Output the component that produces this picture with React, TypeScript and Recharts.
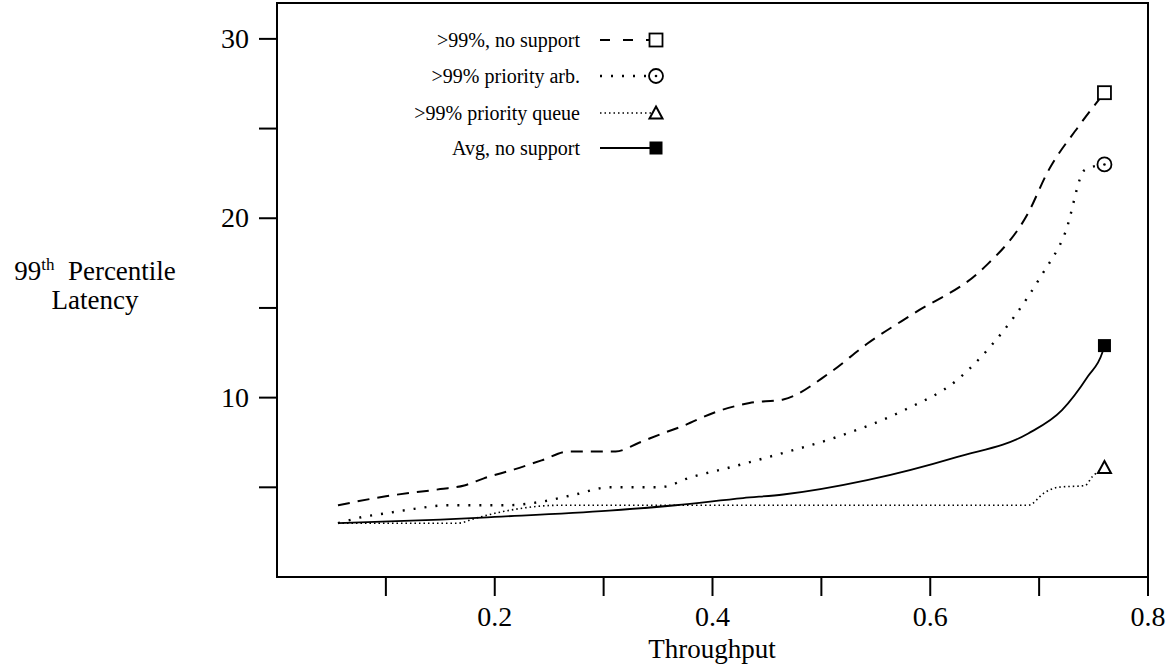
import { LineChart, Line, XAxis, YAxis, ReferenceArea } from 'recharts'

// >99%, no support (dashed)
const noSupportX = [0.056, 0.1, 0.15, 0.172, 0.19, 0.218, 0.243, 0.268, 0.311, 0.333, 0.354, 0.372, 0.403, 0.434, 0.465, 0.508, 0.542, 0.585, 0.643, 0.652, 0.69, 0.708, 0.736, 0.76]
const noSupportY = [4.0, 4.5, 4.9, 5.1, 5.5, 6.0, 6.5, 7.0, 7.0, 7.5, 8.0, 8.4, 9.2, 9.7, 9.9, 11.4, 13.0, 14.7, 16.9, 17.4, 20.3, 22.6, 25.1, 27.0]

// >99% priority arb. (dotted)
const arbX = [0.056, 0.079, 0.1, 0.126, 0.157, 0.212, 0.243, 0.274, 0.305, 0.351, 0.382, 0.409, 0.458, 0.514, 0.576, 0.625, 0.656, 0.677, 0.702, 0.724, 0.742, 0.76]
const arbY = [3.0, 3.35, 3.55, 3.8, 4.0, 4.0, 4.2, 4.6, 5.0, 5.0, 5.6, 6.0, 6.8, 7.8, 9.3, 11.0, 12.9, 14.5, 16.8, 19.2, 22.7, 23.0]

// >99% priority queue (fine dotted)
const queueX = [0.056, 0.166, 0.181, 0.2, 0.227, 0.259, 0.69, 0.705, 0.717, 0.742, 0.749, 0.76]
const queueY = [3.0, 3.0, 3.25, 3.55, 3.85, 4.0, 4.0, 4.7, 5.0, 5.1, 5.6, 6.1]

// Avg, no support (solid)
const avgX = [0.056, 0.15, 0.2, 0.305, 0.366, 0.428, 0.465, 0.542, 0.625, 0.69, 0.721, 0.745, 0.758, 0.76]
const avgY = [3.0, 3.2, 3.35, 3.7, 4.0, 4.4, 4.6, 5.4, 6.7, 8.0, 9.3, 11.2, 12.5, 12.9]

const xTicks = [0.1, 0.2, 0.3, 0.4, 0.5, 0.6, 0.7, 0.8]
const xLabeled = [0.2, 0.4, 0.6, 0.8]
const yTicks = [5, 10, 15, 20, 25, 30]
const yLabeled = [10, 20, 30]

const legendNames = ['>99%, no support', '>99% priority arb.', '>99% priority queue', 'Avg, no support']

const toRows = (xs: number[], ys: number[]) => xs.map((x, i) => ({ x, y: ys[i] }))

const FONT = '"Liberation Serif", "Times New Roman", serif'

function marker(kind: string, cx: number, cy: number, key?: any) {
  if (kind === 'sq') return <rect key={key} x={cx - 6.5} y={cy - 6.5} width={13} height={13} fill="#fff" stroke="#000" strokeWidth={1.8} />
  if (kind === 'circ') return (
    <g key={key}>
      <circle cx={cx} cy={cy} r={7} fill="#fff" stroke="#000" strokeWidth={1.8} />
      <circle cx={cx} cy={cy} r={1.3} fill="#000" />
    </g>
  )
  if (kind === 'tri') return <path key={key} d={`M${cx},${cy - 6.5} L${cx + 6.5},${cy + 5.5} L${cx - 6.5},${cy + 5.5} Z`} fill="#fff" stroke="#000" strokeWidth={2} />
  return <rect key={key} x={cx - 6.5} y={cy - 6.5} width={13} height={13} fill="#000" />
}

const lastDot = (kind: string, n: number) => (p: any) => {
  if (p.index !== n - 1) return <g key={p.index} />
  return marker(kind, p.cx, p.cy, p.index)
}

const series = [
  { name: legendNames[0], data: toRows(noSupportX, noSupportY), dash: '12 8', lg: '10 13', w: 2, kind: 'sq' },
  { name: legendNames[1], data: toRows(arbX, arbY), dash: '2 9', lg: '2 9', w: 2.4, kind: 'circ' },
  { name: legendNames[2], data: toRows(queueX, queueY), dash: '1.5 3', lg: '1.5 3', w: 1.6, kind: 'tri' },
  { name: legendNames[3], data: toRows(avgX, avgY), dash: undefined, lg: undefined, w: 1.8, kind: 'fsq' },
]

const YTick = (p: any) => {
  const v = p.payload.value
  return (
    <g>
      <line x1={259} x2={277} y1={p.y} y2={p.y} stroke="#000" strokeWidth={2} />
      {yLabeled.includes(v) ? <text x={249} y={p.y} dy={9} textAnchor="end" fontSize={28} fontFamily={FONT} fill="#000">{v}</text> : null}
    </g>
  )
}

const XTick = (p: any) => {
  const v = p.payload.value
  return (
    <g>
      <line x1={p.x} x2={p.x} y1={577} y2={596} stroke="#000" strokeWidth={2} />
      {xLabeled.some(l => Math.abs(l - v) < 1e-6) ? <text x={p.x} y={626} textAnchor="middle" fontSize={28} fontFamily={FONT} fill="#000">{v.toFixed(1)}</text> : null}
    </g>
  )
}

const legendRowsY = [40, 76, 113, 148]

export default function App() {
  return (
    <div style={{ position: 'absolute', left: 0, top: 0, width: 1168, height: 671, background: '#fff', fontFamily: FONT }}>
      <LineChart width={1168} height={671} margin={{ top: 3, right: 20, bottom: 34, left: 217 }}>
        <XAxis xAxisId="b" type="number" dataKey="x" domain={[0, 0.8]} ticks={xTicks} tick={<XTick />} tickLine={false} axisLine={{ stroke: '#000', strokeWidth: 2 }} height={60} allowDataOverflow />
        <YAxis yAxisId="l" type="number" domain={[0, 32]} ticks={yTicks} tick={<YTick />} tickLine={false} axisLine={{ stroke: '#000', strokeWidth: 2 }} width={60} allowDataOverflow />
        <ReferenceArea xAxisId="b" yAxisId="l" x1={0} x2={0.8} y1={0} y2={32} fill="none" stroke="#000" strokeWidth={2} />
        {series.map(s => (
          <Line key={s.name} xAxisId="b" yAxisId="l" data={s.data} dataKey="y" name={s.name} type="monotone"
            stroke="#000" strokeWidth={s.w} strokeDasharray={s.dash} dot={lastDot(s.kind, s.data.length)}
            activeDot={false} isAnimationActive={false} />
        ))}
      </LineChart>

      {/* legend inside the plot */}
      {series.map((s, i) => (
        <div key={s.name} style={{ position: 'absolute', left: 280, width: 300, top: legendRowsY[i] - 12, height: 24, textAlign: 'right', fontSize: 20, lineHeight: '24px', color: '#000', whiteSpace: 'nowrap' }}>
          {s.name}
        </div>
      ))}
      <svg style={{ position: 'absolute', left: 590, top: 20, overflow: 'visible' }} width={80} height={150}>
        {series.map((s, i) => {
          const y = legendRowsY[i] - 20
          return (
            <g key={s.name}>
              <line x1={10} x2={66} y1={y} y2={y} stroke="#000" strokeWidth={s.w} strokeDasharray={s.lg} />
              {marker(s.kind, 66, y)}
            </g>
          )
        })}
      </svg>

      {/* axis titles */}
      <div style={{ position: 'absolute', left: 0, width: 190, top: 250, textAlign: 'center', fontSize: 27, lineHeight: '29px', color: '#000' }}>
        <div>99<sup style={{ fontSize: 17 }}>th</sup>&nbsp; Percentile</div>
        <div>Latency</div>
      </div>
      <div style={{ position: 'absolute', left: 612, width: 200, top: 634, textAlign: 'center', fontSize: 27, lineHeight: '31px', color: '#000' }}>Throughput</div>
    </div>
  )
}
